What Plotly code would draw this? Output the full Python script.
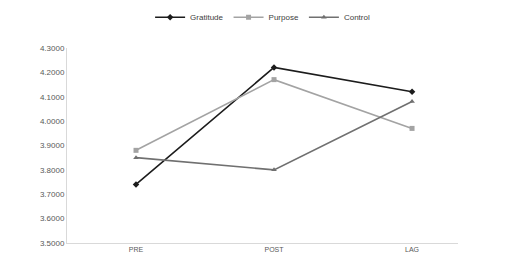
import plotly.graph_objects as go

categories = ["PRE", "POST", "LAG"]
gratitude = [3.74, 4.22, 4.12]
purpose = [3.88, 4.17, 3.97]
control = [3.85, 3.80, 4.08]
y_ticks = [3.5, 3.6, 3.7, 3.8, 3.9, 4.0, 4.1, 4.2, 4.3]

fig = go.Figure()
fig.add_trace(go.Scatter(x=[0, 1, 2], y=gratitude, name="Gratitude", mode="lines+markers",
                         line=dict(color="#1c1c1c", width=1.6),
                         marker=dict(symbol="diamond", size=5, color="#1c1c1c")))
fig.add_trace(go.Scatter(x=[0, 1, 2], y=purpose, name="Purpose", mode="lines+markers",
                         line=dict(color="#a3a3a3", width=1.6),
                         marker=dict(symbol="square", size=5, color="#a3a3a3")))
fig.add_trace(go.Scatter(x=[0, 1, 2], y=control, name="Control", mode="lines+markers",
                         line=dict(color="#707070", width=1.6),
                         marker=dict(symbol="triangle-up", size=5, color="#707070")))

fig.update_layout(
    width=520, height=265,
    margin=dict(l=67, r=62, t=38, b=19),
    paper_bgcolor="white", plot_bgcolor="white",
    font=dict(family="Liberation Sans Narrow, Arial Narrow, sans-serif", size=8, color="#595959"),
    showlegend=True,
    legend=dict(orientation="h", xref="container", yref="container",
                x=0.505, xanchor="center", y=0.935, yanchor="middle",
                font=dict(size=8, color="#404040"), itemwidth=30,
                bgcolor="rgba(0,0,0,0)"),
    xaxis=dict(tickmode="array", tickvals=[0, 1, 2], ticktext=categories,
               range=[-0.5, 2.333], showgrid=False, zeroline=False,
               showline=True, linecolor="#d9d9d9", linewidth=1, ticks="",
               tickfont=dict(size=7, color="#595959")),
    yaxis=dict(range=[3.5, 4.3], tickmode="array", tickvals=y_ticks,
               tickformat=".4f", showgrid=False, zeroline=False,
               showline=True, linecolor="#d9d9d9", linewidth=1, ticks="",
               tickfont=dict(size=8, color="#595959")),
)

fig.write_html("out.html")
